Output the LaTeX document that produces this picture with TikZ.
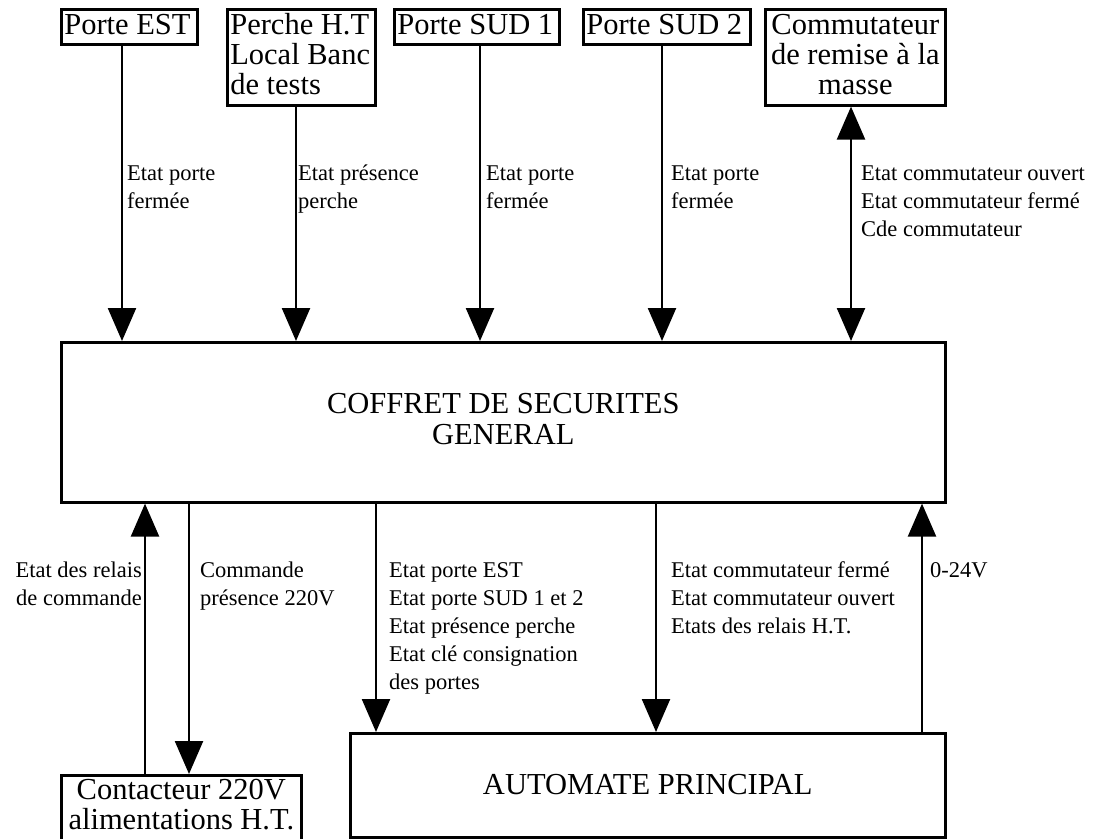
\documentclass[tikz,border=0pt]{standalone}
\usepackage{fontspec}
\setmainfont{Liberation Serif}
\usetikzlibrary{arrows.meta}
\newcommand{\LeftLines}[1]{\vtop{\halign{##\hfil\cr#1\crcr}}}
\newcommand{\RightLines}[1]{\vtop{\halign{\hfil##\cr#1\crcr}}}
\newcommand{\CenterLines}[1]{\vtop{\halign{\hfil##\hfil\cr#1\crcr}}}
\newcommand{\LeftBox}[2]{\hbox to #1{\LeftLines{#2}\hfil}}
\newcommand{\CenterBox}[2]{\hbox to #1{\hfil\CenterLines{#2}\hfil}}
\begin{document}
\begin{tikzpicture}[x=1pt,y=-1pt,
  tbox/.style={draw, line width=2.6pt, inner xsep=3pt, inner ysep=0pt, anchor=north west,
    font=\fontsize{30.5}{30}\selectfont},
  mainbox/.style={tbox, font=\fontsize{30.5}{31}\selectfont},
  lbl/.style={inner sep=0pt, font=\fontsize{22.5}{28}\selectfont},
  arr/.style={line width=2.4pt, -{Triangle[length=33pt,width=28pt]}},
  darr/.style={line width=2.4pt, {Triangle[length=33pt,width=28pt]}-{Triangle[length=33pt,width=28pt]}}
]
\useasboundingbox (0,0) rectangle (1099,838);
\fill[white] (0,0) rectangle (1099,838);
\clip (0,0) rectangle (1099,838);

% top boxes
\node[tbox, text height=25pt, text depth=10pt] (pest) at (60,8) {\LeftBox{130pt}{Porte EST}};
\node[tbox, text height=25pt, text depth=71pt] (perche) at (226,8) {\LeftBox{142pt}{Perche H.T\cr Local Banc\cr de tests}};
\node[tbox, text height=25pt, text depth=10pt] (sudA) at (393,8) {\LeftBox{159pt}{Porte SUD 1}};
\node[tbox, text height=25pt, text depth=10pt] (sudB) at (582,8) {\LeftBox{161pt}{Porte SUD 2}};
\node[tbox, text height=25pt, text depth=71pt] (commut) at (764,8) {\CenterBox{174pt}{Commutateur\cr de remise à la\cr masse}};

% main boxes
\node[mainbox, minimum width=884pt, minimum height=160pt, text height=21pt, text depth=38pt] (coffret) at (60,341)
  {\CenterLines{COFFRET DE SECURITES\cr GENERAL}};
\node[mainbox, minimum width=595pt, minimum height=104pt, text height=21pt, text depth=3pt] (auto) at (349,732)
  {AUTOMATE PRINCIPAL};
\node[tbox, text height=24pt, text depth=47pt] (cont) at (60,774)
  {\CenterBox{234pt}{Contacteur 220V\cr alimentations H.T.}};

% top connectors
\draw[arr] (pest.south -| 122,0) -- (coffret.north -| 122,0);
\draw[arr] (perche.south -| 296,0) -- (coffret.north -| 296,0);
\draw[arr] (sudA.south -| 480,0) -- (coffret.north -| 480,0);
\draw[arr] (sudB.south -| 662,0) -- (coffret.north -| 662,0);
\draw[darr] (commut.south -| 851,0) -- (coffret.north -| 851,0);

% bottom connectors
\draw[arr] (cont.north -| 145,0) -- (coffret.south -| 145,0);
\draw[arr] (coffret.south -| 189,0) -- (cont.north -| 189,0);
\draw[arr] (coffret.south -| 376,0) -- (auto.north -| 376,0);
\draw[arr] (coffret.south -| 656,0) -- (auto.north -| 656,0);
\draw[arr] (auto.north -| 922,0) -- (coffret.south -| 922,0);

% labels
\node[lbl, anchor=base west] (l1) at (127,180) {\LeftLines{Etat porte\cr fermée}};
\node[lbl, anchor=base west] (l2) at (298,180) {\LeftLines{Etat présence\cr perche}};
\node[lbl, anchor=base west] (l3) at (486,180) {\LeftLines{Etat porte\cr fermée}};
\node[lbl, anchor=base west] (l4) at (671,180) {\LeftLines{Etat porte\cr fermée}};
\node[lbl, anchor=base west] (l5) at (861,180) {\LeftLines{Etat commutateur ouvert\cr Etat commutateur fermé\cr Cde commutateur}};

\node[lbl, anchor=base east] (l6) at (142,577) {\RightLines{Etat des relais\cr de commande}};
\node[lbl, anchor=base west] (l7) at (200,577) {\LeftLines{Commande\cr présence 220V}};
\node[lbl, anchor=base west] (l8) at (389,577) {\LeftLines{Etat porte EST\cr Etat porte SUD 1 et 2\cr Etat présence perche\cr Etat clé consignation\cr des portes}};
\node[lbl, anchor=base west] (l9) at (671,577) {\LeftLines{Etat commutateur fermé\cr Etat commutateur ouvert\cr Etats des relais H.T.}};
\node[lbl, anchor=base west] (l10) at (930,577) {0-24V};
\end{tikzpicture}
\end{document}
